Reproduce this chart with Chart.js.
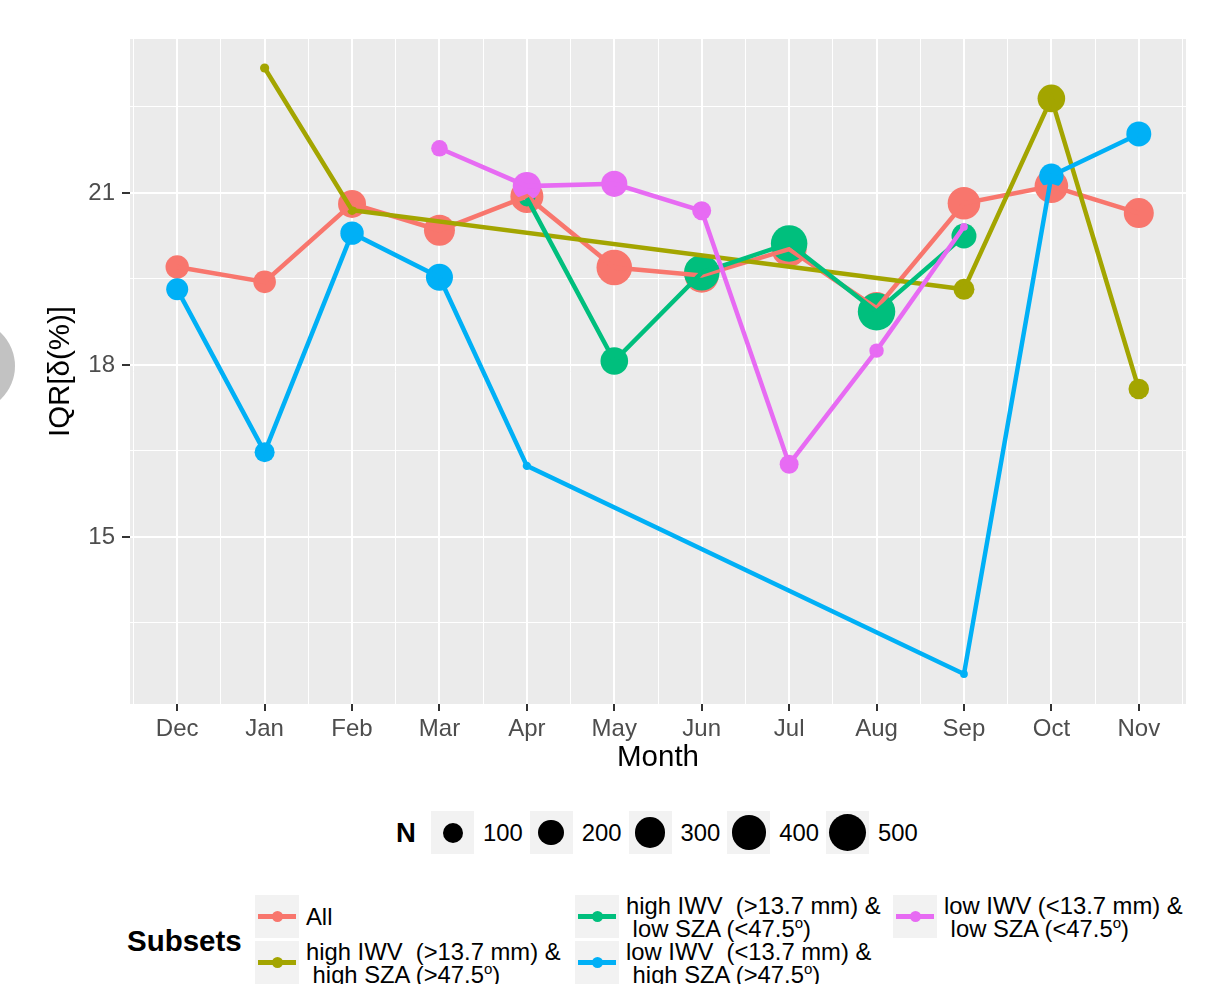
<!DOCTYPE html>
<html>
<head>
<meta charset="utf-8">
<title>IQR by month</title>
<script src="https://cdn.jsdelivr.net/npm/chart.js@4.4.1/dist/chart.umd.min.js"></script>
<style>
  html, body { margin: 0; padding: 0; background: #ffffff; }
  body { width: 1218px; height: 984px; position: relative; overflow: hidden;
         font-family: "Liberation Sans", Arial, sans-serif; }
  #chart { position: absolute; left: 0; top: 0; }
  .edge-dot { position: absolute; left: -77px; top: 320px; width: 92px; height: 92px;
              border-radius: 50%; background: #c2c2c2; }
  .leg-title { position: absolute; font-weight: bold; color: #000; white-space: nowrap; }
  .key { position: absolute; background: #f2f2f2; }
  .key .ln { position: absolute; left: 3px; right: 3px; top: 50%; height: 5px; margin-top: -2.5px; }
  .key .dot { position: absolute; left: 50%; top: 50%; border-radius: 50%; }
  .leg-text { position: absolute; font-size: 23.8px; line-height: 23px; color: #000; white-space: pre; }
  .leg-text sup { font-size: 15px; line-height: 0; vertical-align: 9px; }
</style>
</head>
<body>
<div class="edge-dot"></div>
<canvas id="chart" width="1218" height="800"></canvas>
<div id="legends"></div>
<script>
// Months on the x axis (tick labels)
const months = ['Dec', 'Jan', 'Feb', 'Mar', 'Apr', 'May', 'Jun', 'Jul', 'Aug', 'Sep', 'Oct', 'Nov'];

// Interquartile range of delta (%) per month, and number of samples N
const iqrAll = [19.71, 19.45, 20.81, 20.35, 20.94, 19.70, 19.56, 20.02, 18.99, 20.82, 21.12, 20.65];
const nAll   = [153, 140, 244, 315, 368, 442, 400, 425, 350, 357, 384, 291];

const iqrHighIwvHighSza = [null, 23.18, 20.70, null, null, null, null, null, null, 19.32, 22.65, 17.58];
const nHighIwvHighSza   = [null, 9, 10, null, null, null, null, null, null, 114, 236, 108];

const iqrHighIwvLowSza = [null, null, null, null, 20.91, 18.07, 19.61, 20.12, 18.93, 20.25, null, null];
const nHighIwvLowSza   = [null, null, null, null, 60, 236, 442, 470, 500, 182, null, null];

const iqrLowIwvHighSza = [19.32, 16.48, 20.30, 19.53, 16.24, null, null, null, null, 12.61, 21.30, 22.03];
const nLowIwvHighSza   = [130, 100, 153, 223, 7, null, null, null, null, 6, 171, 182];

const iqrLowIwvLowSza = [null, null, null, 21.78, 21.12, 21.16, 20.69, 16.27, 18.25, 20.41, null, null];
const nLowIwvLowSza   = [null, null, null, 58, 250, 205, 86, 86, 38, 6, null, null];

// Subset names (legend lines) and colours
const subsetLabels = [
  ['All'],
  ['high IWV  (>13.7 mm) &', ' high SZA (>47.5º)'],
  ['high IWV  (>13.7 mm) &', ' low SZA (<47.5º)'],
  ['low IWV  (<13.7 mm) &', ' high SZA (>47.5º)'],
  ['low IWV (<13.7 mm) &', ' low SZA (<47.5º)']
];
const subsetColors = ['#F8766D', '#A3A500', '#00BF7D', '#00B0F6', '#E76BF3'];

// Size legend breaks and y-axis labelled ticks
const sizeBreaks = [100, 200, 300, 400, 500];
const yTickLabels = [15, 18, 21];

const seriesY = [iqrAll, iqrHighIwvHighSza, iqrHighIwvLowSza, iqrLowIwvHighSza, iqrLowIwvLowSza];
const seriesN = [nAll, nHighIwvHighSza, nHighIwvLowSza, nLowIwvHighSza, nLowIwvLowSza];

// Point radius grows with the square root of N (area scale)
function radiusOf(n) {
  return 3.2 + 16.3 * Math.sqrt(Math.max(n - 5, 0) / 545);
}

const FONT = '"Liberation Sans", Arial, sans-serif';
Chart.defaults.font.family = FONT;

const pointSets = [];
const lineSets = [];
seriesY.forEach((ys, k) => {
  const pts = [];
  ys.forEach((v, i) => { if (v !== null) pts.push({ x: i, y: v, n: seriesN[k][i] }); });
  pointSets.push({
    label: subsetLabels[k].join(' ') + ' (N)',
    data: pts.map(p => ({ x: p.x, y: p.y })),
    showLine: false,
    pointRadius: pts.map(p => radiusOf(p.n)),
    pointBackgroundColor: subsetColors[k],
    pointBorderWidth: 0,
    borderWidth: 0,
    order: 20 - k
  });
  lineSets.push({
    label: subsetLabels[k].join(' '),
    data: pts.map(p => ({ x: p.x, y: p.y })),
    borderColor: subsetColors[k],
    borderWidth: 4.5,
    pointRadius: 0,
    tension: 0,
    fill: false,
    order: 10 - k
  });
});

// Tick positions: labelled values plus half-way minor lines
const xTickValues = [];
for (let i = -1; i < months.length; i++) { xTickValues.push(i + 0.5); if (i + 1 < months.length) xTickValues.push(i + 1); }
xTickValues.sort((a, b) => a - b);
const yTickValues = [];
yTickLabels.forEach((v, i) => { yTickValues.push(v - 1.5); yTickValues.push(v); });
yTickValues.push(yTickLabels[yTickLabels.length - 1] + 1.5);

const isMonth = v => Number.isInteger(v) && v >= 0 && v < months.length;

const panelBackground = {
  id: 'panelBackground',
  beforeDraw(chart) {
    const { ctx, chartArea: a } = chart;
    ctx.save();
    ctx.fillStyle = '#EBEBEB';
    ctx.fillRect(a.left, a.top, a.right - a.left, a.bottom - a.top);
    ctx.restore();
  }
};

new Chart(document.getElementById('chart'), {
  type: 'line',
  data: { datasets: [...lineSets, ...pointSets] },
  plugins: [panelBackground],
  options: {
    responsive: false,
    animation: false,
    events: [],
    layout: { padding: { left: 0, top: 39, right: 32, bottom: 0 }, autoPadding: false },
    plugins: { legend: { display: false }, tooltip: { enabled: false } },
    scales: {
      x: {
        type: 'linear',
        min: -0.54,
        max: 11.54,
        afterBuildTicks: s => { s.ticks = xTickValues.map(v => ({ value: v })); },
        afterFit: s => { s.height = 96; },
        border: { display: false },
        grid: {
          color: '#FFFFFF',
          lineWidth: c => (c.tick && isMonth(c.tick.value)) ? 2 : 1,
          drawTicks: true,
          tickLength: 7,
          tickWidth: 2,
          tickColor: c => (c.tick && isMonth(c.tick.value)) ? '#333333' : 'rgba(0,0,0,0)'
        },
        ticks: {
          autoSkip: false,
          maxRotation: 0,
          padding: 4,
          color: '#4D4D4D',
          font: { size: 24 },
          callback: v => isMonth(v) ? months[v] : ''
        },
        title: {
          display: true,
          text: 'Month',
          color: '#000000',
          font: { size: 29.5 },
          padding: { top: 0, bottom: 24 }
        }
      },
      y: {
        type: 'linear',
        min: 12.087,
        max: 23.686,
        afterBuildTicks: s => { s.ticks = yTickValues.map(v => ({ value: v })); },
        afterFit: s => { s.width = 130; },
        border: { display: false },
        grid: {
          color: '#FFFFFF',
          lineWidth: c => (c.tick && yTickLabels.includes(c.tick.value)) ? 2 : 1,
          drawTicks: true,
          tickLength: 8,
          tickWidth: 2,
          tickColor: c => (c.tick && yTickLabels.includes(c.tick.value)) ? '#333333' : 'rgba(0,0,0,0)'
        },
        ticks: {
          padding: 7,
          color: '#4D4D4D',
          font: { size: 24 },
          callback: v => yTickLabels.includes(v) ? String(v) : ''
        },
        title: {
          display: true,
          text: 'IQR[δ(%)]',
          color: '#000000',
          font: { size: 29.5 },
          padding: { top: 43, bottom: 0 }
        }
      }
    }
  }
});

// ---- Legends (size legend and subset legend) ----
const host = document.getElementById('legends');

function addEl(cls, css, parent) {
  const d = document.createElement('div');
  d.className = cls;
  Object.assign(d.style, css);
  (parent || host).appendChild(d);
  return d;
}

function setLine(el, text) {
  const parts = text.split('º');
  parts.forEach((p, i) => {
    el.appendChild(document.createTextNode(p));
    if (i < parts.length - 1) {
      const s = document.createElement('sup');
      s.textContent = 'o';
      el.appendChild(s);
    }
  });
}

// Size legend
const nTitle = addEl('leg-title', { left: '396px', top: '816px', fontSize: '27.5px', lineHeight: '34px' });
nTitle.textContent = 'N';
sizeBreaks.forEach((n, i) => {
  const x = 431 + i * 98.75;
  const box = addEl('key', { left: x + 'px', top: '811px', width: '43px', height: '43px' });
  const r = radiusOf(n);
  addEl('dot', { width: 2 * r + 'px', height: 2 * r + 'px', marginLeft: -r + 'px', marginTop: -r + 'px', background: '#000' }, box);
  const t = addEl('leg-text', { left: (x + 52) + 'px', top: (832.5 - 11.5) + 'px' });
  t.textContent = String(n);
});

// Subset legend
const sTitle = addEl('leg-title', { left: '127px', top: '924px', fontSize: '29.5px', lineHeight: '34px' });
sTitle.textContent = 'Subsets';
const keyPos = [[255, 895], [255, 941], [575, 895], [575, 941], [893, 895]];
subsetLabels.forEach((lines, k) => {
  const [x, y] = keyPos[k];
  const box = addEl('key', { left: x + 'px', top: y + 'px', width: '44px', height: '43px' });
  addEl('ln', { background: subsetColors[k] }, box);
  addEl('dot', { width: '11px', height: '11px', marginLeft: '-5.5px', marginTop: '-5.5px', background: subsetColors[k] }, box);
  const cy = y + 21.5;
  const t = addEl('leg-text', { left: (x + 51) + 'px', top: (cy - lines.length * 11.5) + 'px' });
  lines.forEach((ln, j) => {
    const row = document.createElement('div');
    setLine(row, ln);
    t.appendChild(row);
  });
});
</script>
</body>
</html>
